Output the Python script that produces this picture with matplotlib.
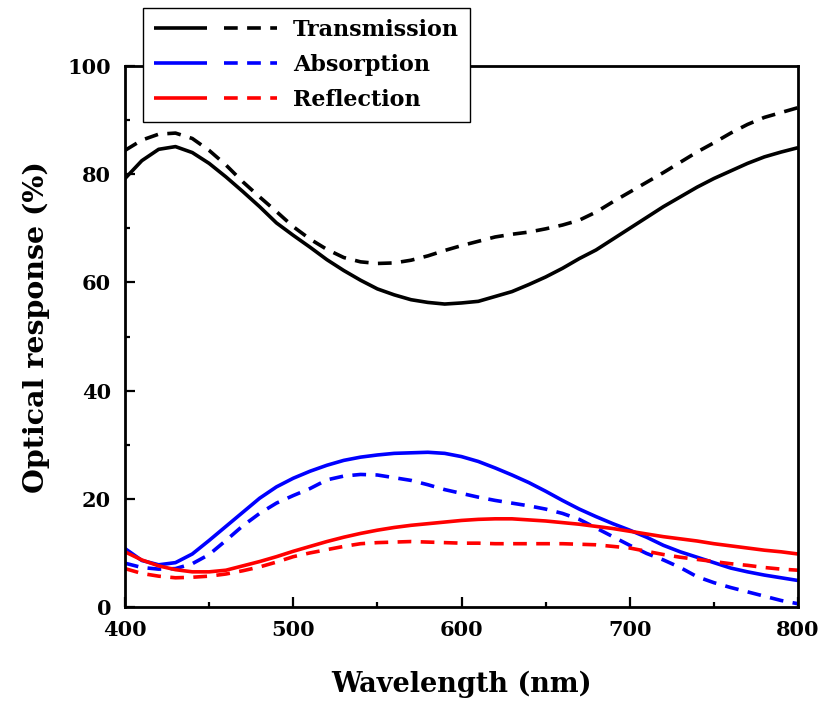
import matplotlib
matplotlib.use("Agg")
import matplotlib.pyplot as plt
from matplotlib.legend_handler import HandlerTuple

wavelength = [400, 410, 420, 430, 440, 450, 460, 470, 480, 490, 500, 510, 520, 530, 540, 550,
              560, 570, 580, 590, 600, 610, 620, 630, 640, 650, 660, 670, 680, 690, 700, 710,
              720, 730, 740, 750, 760, 770, 780, 790, 800]

trans_solid = [79.2, 82.5, 84.6, 85.1, 84.0, 82.0, 79.5, 76.8, 74.0, 71.0, 68.7, 66.5, 64.2, 62.2,
               60.4, 58.8, 57.7, 56.8, 56.3, 56.0, 56.2, 56.5, 57.4, 58.3, 59.6, 61.0, 62.6, 64.4,
               66.0, 68.0, 70.0, 72.0, 74.0, 75.8, 77.6, 79.2, 80.6, 82.0, 83.2, 84.1, 84.9]
trans_dash = [84.4, 86.3, 87.4, 87.6, 86.6, 84.4, 81.7, 78.6, 75.8, 73.1, 70.3, 68.0, 66.1, 64.6,
              63.8, 63.5, 63.6, 64.1, 64.9, 65.9, 66.8, 67.6, 68.4, 68.9, 69.3, 69.9, 70.6, 71.5,
              73.0, 74.9, 76.7, 78.5, 80.3, 82.2, 84.1, 85.8, 87.6, 89.2, 90.5, 91.4, 92.3]
abs_solid = [10.8, 8.6, 7.8, 8.2, 9.8, 12.3, 14.9, 17.5, 20.1, 22.2, 23.8, 25.1, 26.2, 27.1, 27.7,
             28.1, 28.4, 28.5, 28.6, 28.4, 27.8, 26.9, 25.7, 24.4, 23.0, 21.4, 19.7, 18.1, 16.7,
             15.4, 14.2, 12.9, 11.4, 10.2, 9.2, 8.2, 7.2, 6.5, 5.9, 5.4, 4.9]
abs_dash = [8.1, 7.3, 7.0, 7.1, 8.0, 9.7, 12.3, 15.0, 17.3, 19.2, 20.6, 21.9, 23.5, 24.2, 24.5,
            24.4, 23.9, 23.4, 22.6, 21.7, 21.0, 20.3, 19.7, 19.2, 18.7, 18.1, 17.3, 16.2, 14.6,
            13.0, 11.4, 9.9, 8.7, 7.3, 5.6, 4.5, 3.6, 2.8, 2.0, 1.2, 0.6]
refl_solid = [10.2, 8.7, 7.6, 6.9, 6.5, 6.5, 6.8, 7.6, 8.4, 9.3, 10.3, 11.2, 12.1, 12.9, 13.6,
              14.2, 14.7, 15.1, 15.4, 15.7, 16.0, 16.2, 16.3, 16.3, 16.1, 15.9, 15.6, 15.3, 14.9,
              14.5, 14.0, 13.5, 13.0, 12.6, 12.2, 11.7, 11.3, 10.9, 10.5, 10.2, 9.8]
refl_dash = [7.1, 6.2, 5.7, 5.4, 5.5, 5.7, 6.1, 6.7, 7.4, 8.3, 9.3, 10.0, 10.6, 11.2, 11.7, 11.9,
             12.0, 12.1, 12.0, 11.9, 11.8, 11.8, 11.7, 11.7, 11.7, 11.7, 11.7, 11.6, 11.5, 11.2,
             10.9, 10.3, 9.7, 9.2, 8.8, 8.4, 8.0, 7.7, 7.3, 7.0, 6.8]

labels = ["Transmission", "Absorption", "Reflection"]
colors = ["black", "#0000ff", "#ff0000"]
xticks = [400, 500, 600, 700, 800]
yticks = [0, 20, 40, 60, 80, 100]

plt.rcParams['font.family'] = ['DejaVu Serif']
plt.rcParams['font.weight'] = 'bold'

fig = plt.figure(figsize=(8.25, 7.08), dpi=100)
ax = fig.add_axes([125 / 825, 1 - 607 / 708, 673 / 825, 541 / 708])

lw = 2.6
dash = (0, (3.8, 2.6))
handles = []
for solid, dashed, c in [(trans_solid, trans_dash, colors[0]),
                         (abs_solid, abs_dash, colors[1]),
                         (refl_solid, refl_dash, colors[2])]:
    l1, = ax.plot(wavelength, solid, color=c, lw=lw, solid_capstyle='butt')
    l2, = ax.plot(wavelength, dashed, color=c, lw=lw, linestyle=dash)
    handles.append((l1, l2))

ax.set_xlim(400, 800)
ax.set_ylim(0, 100)
ax.set_xticks(xticks)
ax.set_yticks(yticks)
ax.set_xticks([450, 550, 650, 750], minor=True)
ax.set_yticks([10, 30, 50, 70, 90], minor=True)
ax.tick_params(which='both', direction='in', width=1.6, top=False, right=False)
ax.tick_params(which='major', length=7)
ax.tick_params(which='minor', length=3.5)
ax.tick_params(axis='x', which='major', labelsize=15, pad=9)
ax.tick_params(axis='y', which='major', labelsize=15, pad=10)
for lab in ax.get_xticklabels() + ax.get_yticklabels():
    lab.set_fontweight('bold')
for sp in ax.spines.values():
    sp.set_linewidth(2.0)

ax.set_xlabel("Wavelength (nm)", fontsize=19.5, fontweight='bold')
ax.set_ylabel("Optical response (%)", fontsize=20.5, fontweight='bold')
ax.xaxis.set_label_coords(0.5, -0.117)
ax.yaxis.set_label_coords(-0.112, 0.517)

leg = fig.legend(handles, labels, handler_map={tuple: HandlerTuple(ndivide=None, pad=0.77)},
                 loc='upper left', bbox_to_anchor=(143 / 825, 1 - 8 / 708),
                 bbox_transform=fig.transFigure, borderaxespad=0,
                 prop={'size': 16, 'weight': 'bold'}, handlelength=5.55, handletextpad=0.7,
                 borderpad=0.5, labelspacing=0.58, fancybox=False, framealpha=1,
                 edgecolor='black')
leg.get_frame().set_linewidth(1.0)

fig.savefig("out.png", dpi=100)
